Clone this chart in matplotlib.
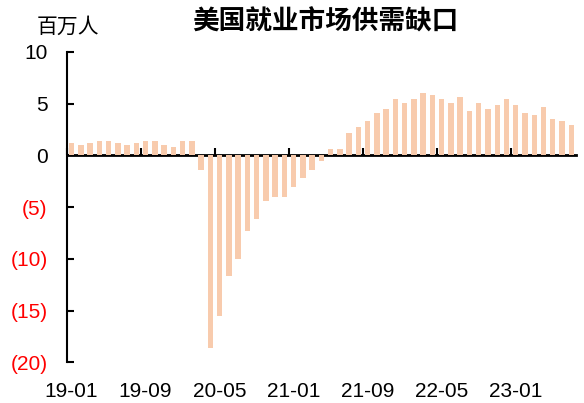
import matplotlib
matplotlib.use('Agg')
import matplotlib.pyplot as plt
import pandas as pd

plt.rcParams['font.family'] = ['Liberation Sans', 'Noto Sans CJK SC', 'DejaVu Sans']

months = pd.period_range('2019-01', '2023-07', freq='M').strftime('%y-%m').tolist()

# US labour market gap: job openings minus unemployed (millions)
gap = [1.2, 1.0, 1.2, 1.4, 1.4, 1.2, 1.0, 1.2, 1.4, 1.4, 1.0, 0.85, 1.4, 1.4,
       -1.45, -18.6, -15.5, -11.6, -10.0, -7.3, -6.1, -4.4, -4.0, -4.0,
       -3.0, -2.2, -1.45, -0.5, 0.62, 0.62, 2.17, 2.76, 3.34, 4.12, 4.5,
       5.49, 5.1, 5.49, 6.07, 5.88, 5.49, 5.1, 5.68, 4.32, 5.1, 4.5, 4.9,
       5.49, 4.9, 4.12, 3.93, 4.7, 3.54, 3.34, 2.95]

tick_labels = ['19-01', '19-09', '20-05', '21-01', '21-09', '22-05', '23-01']
ytick_vals = [10, 5, 0, -5, -10, -15, -20]
ytick_labels = ['10', '5', '0', '(5)', '(10)', '(15)', '(20)']

fig = plt.figure(figsize=(5.84, 4.03), dpi=100)
ax = fig.add_axes([0.1147, 0.1005, 0.8713, 0.7705])

x = list(range(len(months)))
ax.bar(x, gap, width=0.58, color='#F8CBAD', zorder=2)
ax.set_xlim(-0.5, len(months) - 0.5)
ax.set_ylim(-20, 10)

ax.set_yticks(ytick_vals, ytick_labels)
for lbl, v in zip(ax.get_yticklabels(), ytick_vals):
    lbl.set_color('#FF0000' if v < 0 else 'black')
ax.tick_params(axis='y', direction='in', length=5, width=1.5, pad=14, labelsize=15)

pos = [months.index(t) for t in tick_labels]
ax.set_xticks(pos, tick_labels)
ax.tick_params(axis='x', length=0, pad=14, labelsize=15)

for s in ['top', 'right', 'bottom']:
    ax.spines[s].set_visible(False)
ax.spines['left'].set_linewidth(1.5)

# zero line with upward tick marks at category boundaries
y0 = (0 - (-20)) / (10 - (-20))
sec = ax.secondary_xaxis(y0)
sec.set_xticks([p - 0.5 for p in pos], [''] * len(pos))
sec.tick_params(axis='x', direction='out', length=5, width=1.5)
for s in sec.spines.values():
    s.set_linewidth(2)

fig.text(0.557, 0.945, '美国就业市场供需缺口', ha='center', va='center',
         fontsize=19.2, fontweight='bold', family=['Noto Sans CJK SC', 'DejaVu Sans'])
fig.text(0.117, 0.933, '百万人', ha='center', va='center', fontsize=15,
         family=['Noto Sans CJK SC', 'DejaVu Sans'])

fig.savefig('out.png', dpi=100)
